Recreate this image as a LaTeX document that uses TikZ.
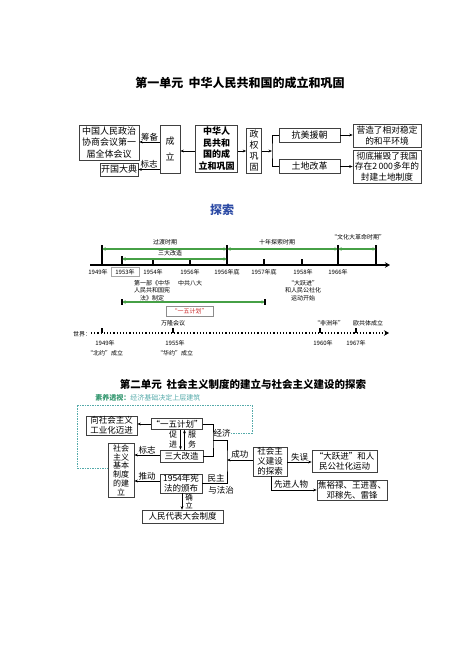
\documentclass[tikz,border=0pt]{standalone}
\usepackage{fontspec}
\setmainfont{Noto Sans CJK SC}
\usetikzlibrary{arrows.meta}
\definecolor{tsblue}{RGB}{45,75,165}
\definecolor{tlgreen}{RGB}{70,160,70}
\definecolor{syteal}{RGB}{85,170,170}
\definecolor{sygreen}{RGB}{50,150,110}
\definecolor{ywred}{RGB}{200,40,40}

\begin{document}
\begin{tikzpicture}[x=1pt,y=-1pt,line width=0.6pt,
	box/.style={draw=black!75, inner sep=0pt, align=center, font=\fontsize{9}{11.5}\selectfont},
	sbox/.style={draw=black!75, inner sep=0pt, align=center, font=\fontsize{8.5}{10}\selectfont},
	lbl/.style={inner sep=0pt, align=center, font=\fontsize{8.5}{10}\selectfont},
	tl/.style={inner sep=0pt, align=center, font=\fontsize{6}{7.5}\selectfont},
	arr/.style={-{Stealth[length=3.5pt,width=2.8pt]}},
	garr/.style={tlgreen, line width=1.3pt, {Latex[length=3.5pt,width=3.8pt]}-{Latex[length=3.5pt,width=3.8pt]}}]
	\useasboundingbox (0,0) rectangle (474,670);

	% unit one
	\node (T1) at (240, 83)	[inner sep=0pt, font=\fontsize{12}{14}\selectfont\bfseries]	{第一单元\ \ 中华人民共和国的成立和巩固};
	\node (ZX) at (109, 142.5)	[box, minimum width=60, minimum height=35]	{中国人民政治\\协商会议第一\\届全体会议};
	\node (KG) at (119, 169.5)	[box, minimum width=38, minimum height=13]	{开国大典};
	\node (CL) at (170, 149)	[box, minimum width=20, minimum height=48, font=\fontsize{9}{16}\selectfont]	{成\\立};
	\node (ZH) at (216.5, 148.5)	[box, minimum width=42, minimum height=47, font=\fontsize{9}{11.5}\selectfont\bfseries]	{中华人\\民共和\\国的成\\立和巩固};
	\node (ZQ) at (254, 150.5)	[box, minimum width=15, minimum height=45, font=\fontsize{9}{11}\selectfont]	{政\\权\\巩\\固};
	\node (KM) at (309.5, 135)	[box, minimum width=61, minimum height=14]	{抗美援朝};
	\node (TD) at (309.5, 166.5)	[box, minimum width=61, minimum height=14]	{土地改革};
	\node (YZ) at (387, 135.5)	[box, minimum width=68, minimum height=23, font=\fontsize{8.7}{10.5}\selectfont]	{营造了相对稳定\\的和平环境};
	\node (CD) at (387, 166.5)	[box, minimum width=68, minimum height=33, font=\fontsize{8.7}{10.5}\selectfont]	{彻底摧毁了我国\\存在2\,000多年的\\封建土地制度};
	\coordinate (ZQb) at (272, 151);
	\draw[arr] (CL.west |- 0,142) -- (ZX.east |- 0,142) node[lbl, midway, above=1pt] {筹备};
	\draw[arr] (CL.west |- 0,169.5) -- (KG.east) node[lbl, midway, above=1pt] {标志};
	\draw[arr] (ZH.west |- 0,151) -- (CL.east |- 0,151);
	\draw[arr] (ZH.east |- 0,151) -- (ZQ.west |- 0,151);
	\draw[arr] (ZQ.east |- 0,151) -- (ZQb);
	\draw (KM.west) -| (ZQb) |- (TD.west);
	\draw[arr] (KM.east) -- (YZ.west |- KM.east);
	\draw[arr] (TD.east) -- (CD.west |- TD.east);

	% exploration timeline
	\node (TS) at (222, 210)	[inner sep=0pt, text=tsblue, font=\fontsize{12}{14}\selectfont\bfseries]	{探索};
	\coordinate (A0) at (90, 265);
	\coordinate (A1) at (390, 265);
	\draw[line width=1.6pt, -{Stealth[length=5pt,width=5.5pt]}] (A0) -- (A1);
	\draw[line width=1.6pt] (102, 245) -- (102, 265);
	\draw[line width=1.6pt] (122, 256) -- (122, 265);
	\draw[line width=1.6pt] (227, 245) -- (227, 265);
	\draw[line width=1.6pt] (338, 245) -- (338, 265);
	\draw[line width=1.6pt] (376, 245) -- (376, 265);
	\draw[line width=1.3pt] (153, 259) -- (153, 265);
	\draw[line width=1.3pt] (190, 259) -- (190, 265);
	\draw[line width=1.3pt] (264, 259) -- (264, 265);
	\draw[line width=1.3pt] (302, 259) -- (302, 265);
	\draw[garr] (102, 249) -- (227, 249);
	\draw[garr] (227, 249) -- (338, 249);
	\draw[garr] (338, 249) -- (376, 249);
	\draw[garr] (122, 259) -- (227, 259);
	\node (GD) at (165, 242)	[tl]	{过渡时期};
	\node (SD) at (170, 253.5)	[tl]	{三大改造};
	\node (SN) at (277, 242)	[tl]	{十年探索时期};
	\node (WG) at (358, 237)	[tl]	{“文化大革命时期”};
	\node (Y49) at (98, 272)	[tl]	{1949年};
	\node (Y53) at (125, 272)	[tl, draw=black!35, inner sep=1.5pt, minimum width=28]	{1953年};
	\node (Y54) at (153, 272)	[tl]	{1954年};
	\node (Y56) at (190, 272)	[tl]	{1956年};
	\node (Y56d) at (227, 272)	[tl]	{1956年底};
	\node (Y57d) at (264, 272)	[tl]	{1957年底};
	\node (Y58) at (303, 272)	[tl]	{1958年};
	\node (Y66) at (338, 272)	[tl]	{1966年};
	\node (XF) at (152, 290.5)	[tl]	{第一部《中华\\人民共和国宪\\法》制定};
	\node (BD) at (190, 283)	[tl]	{中共八大};
	\node (DY) at (303, 290.5)	[tl]	{“大跃进”\\和人民公社化\\运动开始};
	\draw[garr] (122, 302) -- (265, 302);
	\draw[line width=1.3pt] (122, 299) -- (122, 305);
	\draw[line width=1.3pt] (265, 299) -- (265, 305);
	\node (YW) at (189.5, 311)	[tl, draw=black!45, text=ywred, minimum width=47, minimum height=10]	{“一五计划”};
	\node (WL) at (173, 323)	[tl]	{万隆会议};
	\node (FZ) at (329, 323)	[tl]	{“非洲年”};
	\node (OG) at (368, 323)	[tl]	{欧共体成立};
	\node (SJ) at (82, 334)	[tl]	{世界：};
	\coordinate (B0) at (91, 333);
	\coordinate (B1) at (389, 333);
	\draw[line width=1.2pt, dotted, -{Stealth[length=5pt,width=5.5pt]}] (B0) -- (B1);
	\draw[line width=1.2pt] (102, 328) -- (102, 333);
	\draw[line width=1.2pt] (173, 328) -- (173, 333);
	\draw[line width=1.2pt] (320, 328) -- (320, 333);
	\draw[line width=1.2pt] (356, 328) -- (356, 333);
	\node (W49) at (105, 343)	[tl]	{1949年};
	\node (BY) at (105, 353)	[tl]	{“北约”成立};
	\node (W55) at (175, 343)	[tl]	{1955年};
	\node (HY) at (175, 353)	[tl]	{“华约”成立};
	\node (W60) at (323, 343)	[tl]	{1960年};
	\node (W67) at (356, 343)	[tl]	{1967年};

	% unit two
	\node (T2) at (243, 384)	[inner sep=0pt, font=\fontsize{10.5}{12}\selectfont\bfseries]	{第二单元\ \ 社会主义制度的建立与社会主义建设的探索};
	\node (SY) at (95, 398)	[anchor=west, inner sep=0pt, font=\fontsize{7}{8}\selectfont]	{\textcolor{sygreen}{\bfseries 素养透视：}\textcolor{syteal}{经济基础决定上层建筑}};
	\node (GY) at (111.5, 425.5)	[sbox, minimum width=51, minimum height=19]	{向社会主义\\工业化迈进};
	\node (YJ) at (177, 424)	[sbox, minimum width=50, minimum height=11]	{“一五计划”};
	\node (SG) at (181.5, 456)	[sbox, minimum width=43, minimum height=12]	{三大改造};
	\node (ZD) at (121, 470)	[sbox, minimum width=26, minimum height=54, font=\fontsize{8}{8.8}\selectfont]	{社会\\主义\\基本\\制度\\的建\\立};
	\node (XS) at (181, 483.5)	[sbox, minimum width=42, minimum height=19]	{1954年宪\\法的颁布};
	\node (RD) at (182.5, 516.5)	[sbox, minimum width=81, minimum height=13]	{人民代表大会制度};
	\node (TSu) at (270, 461.5)	[sbox, minimum width=34, minimum height=29]	{社会主\\义建设\\的探索};
	\node (DJ) at (344.5, 461)	[sbox, minimum width=65, minimum height=22]	{“大跃进”和人\\民公社化运动};
	\node (XJ) at (352, 490)	[sbox, minimum width=70, minimum height=20]	{焦裕禄、王进喜、\\邓稼先、雷锋};
	\coordinate (JJ) at (213, 440);
	\coordinate (CG) at (227, 460);
	\draw[arr] (YJ.west) -- (GY.east |- YJ.west);
	\draw[arr] (YJ.south -| 180.5,0) -- (SG.north -| 180.5,0);
	\draw[arr] (SG.north -| 184.5,0) -- (YJ.south -| 184.5,0);
	\node (CJ) at (173, 439.5)	[lbl, font=\fontsize{8}{9.5}\selectfont]	{促\\进};
	\node (FW) at (192, 439.5)	[lbl, font=\fontsize{8}{9.5}\selectfont]	{服\\务};
	\draw[arr] (SG.west |- 0,455) -- (ZD.east |- 0,455) node[lbl, midway, above=0.5pt] {标志};
	\draw[arr] (XS.west |- 0,481) -- (ZD.east |- 0,481) node[lbl, midway, above=0.5pt] {推动};
	\draw[arr] (XS.south -| 182,0) -- (RD.north -| 182,0);
	\node (QL) at (189, 501.5)	[lbl, font=\fontsize{7.5}{8.5}\selectfont]	{确\\立};
	\draw (YJ.east) -| (JJ) |- (SG.east);
	\draw (JJ) -| (CG) |- (XS.east |- 0,483);
	\node (JI) at (222, 433)	[lbl]	{经济};
	\node (MZ) at (216, 478)	[lbl]	{民主};
	\node (FZh) at (221, 490)	[lbl]	{与法治};
	\draw[arr] (TSu.west |- CG) -- (CG) node[lbl, midway, above=1pt] {成功};
	\draw[arr] (TSu.east |- 0,462) -- (DJ.west |- 0,462) node[lbl, midway, above=1pt] {失误};
	\draw[arr] (TSu.south -| 271,0) |- (XJ.west) node[lbl, pos=0.72, above=1pt] {先进人物};
	\draw[syteal, dashed, dash pattern=on 1.5pt off 1pt] (JI.east) -- (252, 433) -- (252, 405) -- (77, 405) -- (77, 468) -- (ZD.west |- 0,468);
\end{tikzpicture}
\end{document}
